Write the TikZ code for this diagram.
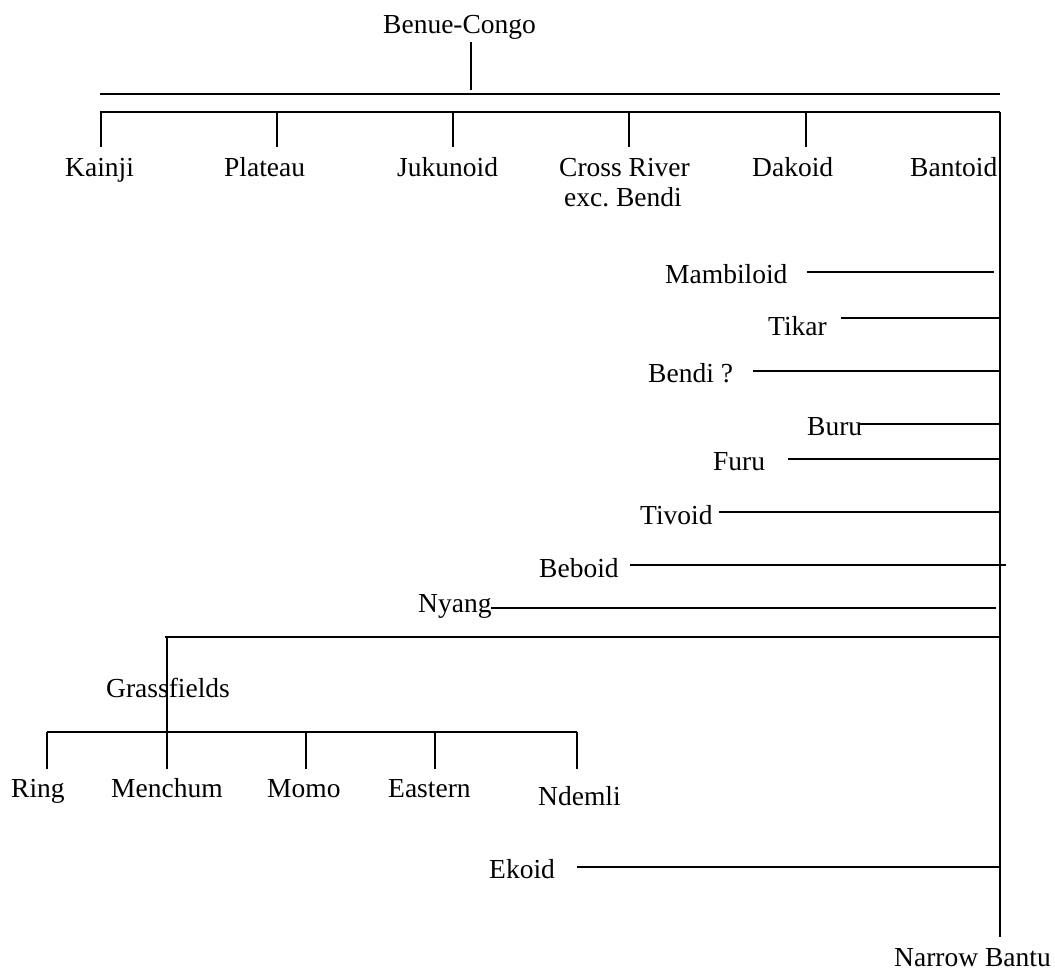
\documentclass[tikz,border=0pt]{standalone}
\usepackage{fontspec}
\setmainfont{Liberation Serif}
\frenchspacing
\begin{document}
\begin{tikzpicture}[x=1pt,y=-1pt,
  lbl/.style={anchor=base west,inner sep=0pt,yshift=-3pt,font=\fontsize{27.5}{30}\selectfont},
  ln/.style={line width=1.3pt,black}]
\useasboundingbox[fill=white] (0,0) rectangle (1055,971);
% labels
\node[lbl] (bc) at (383,31) {Benue-Congo};
\node[lbl] (kainji) at (65,173) {Kainji};
\node[lbl] (plateau) at (224,173) {Plateau};
\node[lbl] (jukunoid) at (397,173) {Jukunoid};
\node[lbl] (cross) at (559,173) {Cross River};
\node[lbl] (crossb) at (564,203) {exc.\ Bendi};
\node[lbl] (dakoid) at (752,173) {Dakoid};
\node[lbl] (bantoid) at (910,173) {Bantoid};
\node[lbl] (mamb) at (665,280) {Mambiloid};
\node[lbl] (tikar) at (768,332) {Tikar};
\node[lbl] (bendi) at (648,379) {Bendi ?};
\node[lbl] (buru) at (807,432) {Buru};
\node[lbl] (furu) at (713,467) {Furu};
\node[lbl] (tivoid) at (640,521) {Tivoid};
\node[lbl] (beboid) at (539,574) {Beboid};
\node[lbl] (nyang) at (418,609) {Nyang};
\node[lbl] (grass) at (106,694) {Grassfields};
\node[lbl] (ring) at (11,794) {Ring};
\node[lbl] (menchum) at (111,794) {Menchum};
\node[lbl] (momo) at (267,794) {Momo};
\node[lbl] (eastern) at (388,794) {Eastern};
\node[lbl] (ndemli) at (538,802) {Ndemli};
\node[lbl] (ekoid) at (489,875) {Ekoid};
\node[lbl] (narrow) at (894,963) {Narrow Bantu};
% junction coordinates
\coordinate (st1) at (471,42); \coordinate (st2) at (471,90);
\coordinate (b1l) at (100,94); \coordinate (b1r) at (1000,94);
\coordinate (b2l) at (100,112); \coordinate (b2r) at (1000,112);
\coordinate (trunkb) at (1000,937);
\coordinate (mambr) at (994,272); \coordinate (mambl) at (807,272);
\coordinate (tikl) at (841,318); \coordinate (tikr) at (1000,318);
\coordinate (bendl) at (753,371); \coordinate (bendr) at (1000,371);
\coordinate (burl) at (858,424); \coordinate (burr) at (1000,424);
\coordinate (furl) at (788,459); \coordinate (furr) at (1000,459);
\coordinate (tivl) at (719,512); \coordinate (tivr) at (1000,512);
\coordinate (bebl) at (630,565); \coordinate (bebr) at (1006,565);
\coordinate (nyal) at (491,608); \coordinate (nyar) at (996,608);
\coordinate (gfl) at (165,637); \coordinate (gfr) at (1000,637);
\coordinate (gv1) at (167,637); \coordinate (gv2) at (167,769);
\coordinate (lbl1) at (47,732); \coordinate (lbr) at (577,732);
\coordinate (ekl) at (577,867); \coordinate (ekr) at (1000,867);
% tree lines
\draw[ln] (st1) -- (st2);
\draw[ln] (b1l) -- (b1r);
\draw[ln] (b2l) -- (b2r);
\foreach \x in {101,277,453,629,806} \draw[ln] (\x,112) -- (\x,147);
\draw[ln] (b2r) -- (trunkb);
\draw[ln] (mambl) -- (mambr);
\draw[ln] (tikl) -- (tikr);
\draw[ln] (bendl) -- (bendr);
\draw[ln] (burl) -- (burr);
\draw[ln] (furl) -- (furr);
\draw[ln] (tivl) -- (tivr);
\draw[ln] (bebl) -- (bebr);
\draw[ln] (nyal) -- (nyar);
\draw[ln] (gfl) -- (gfr);
\draw[ln] (gv1) -- (gv2);
\draw[ln] (lbl1) -- (lbr);
\foreach \x in {47,306,435,577} \draw[ln] (\x,732) -- (\x,769);
\draw[ln] (ekl) -- (ekr);
\end{tikzpicture}
\end{document}
